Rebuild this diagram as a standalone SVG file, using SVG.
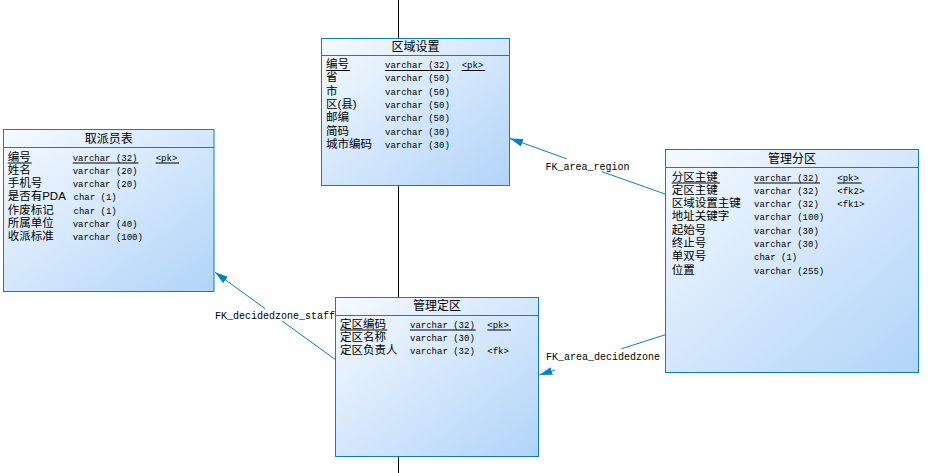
<svg xmlns="http://www.w3.org/2000/svg" width="934" height="473" viewBox="0 0 934 473">
<style>
.box{fill:url(#g);stroke:#0a7fc2;stroke-width:1}
.hd{stroke:#0a7fc2;stroke-width:1}
.t{font-family:"Liberation Sans","Noto Sans CJK SC",sans-serif;font-size:11.5px;fill:#000}
.ti{font-family:"Liberation Sans","Noto Sans CJK SC",sans-serif;font-size:12px;fill:#000;text-anchor:middle}
.m{font-family:"Liberation Mono",monospace;font-size:9px;fill:#000}
.ul{stroke:#000;stroke-width:1}
.c{stroke:#0a7fc2;stroke-width:1;fill:none}
.lb{font-family:"Liberation Mono",monospace;font-size:10px;fill:#000}
</style>
<defs>
<linearGradient id="g" x1="0" y1="0" x2="1" y2="1">
<stop offset="0" stop-color="#f6faff"/>
<stop offset="1" stop-color="#b1d4f9"/>
</linearGradient>
<marker id="ah" markerUnits="userSpaceOnUse" viewBox="0 0 13 8" refX="13" refY="4" markerWidth="13" markerHeight="8" orient="auto">
<path d="M0,0 L13,4 L0,8 z" fill="#0a7fc2"/>
</marker>
</defs>
<g id="connectors">
<line x1="398.5" y1="0" x2="398.5" y2="473" stroke="#000" stroke-width="1"/>
<path class="c" d="M665,194 L601.7,171.6"/>
<path class="c" d="M566.7,158.8 L510,138.4" marker-end="url(#ah)"/>
<text class="lb" x="545.5" y="170">FK_area_region</text>
<path class="c" d="M335,359.3 L281.7,320.7"/>
<path class="c" d="M265,308.6 L215,272.3" marker-end="url(#ah)"/>
<text class="lb" x="215" y="318.5">FK_decidedzone_staff</text>
<path class="c" d="M666.7,334.3 L621.7,348.7"/>
<path class="c" d="M555,370 L539.3,375" marker-end="url(#ah)"/>
<text class="lb" x="546" y="359.5">FK_area_decidedzone</text>
</g>
<g id="region">
<rect class="box" x="321.5" y="38.5" width="188" height="147"/>
<line class="hd" x1="321.5" y1="55.5" x2="509.5" y2="55.5"/>
<text class="ti" x="415.5" y="50.5">区域设置</text>
<text class="t" x="326" y="68">编号</text><text class="m" x="385" y="68">varchar (32)</text><text class="m" x="461.7" y="68">&lt;pk&gt;</text>
<line class="ul" x1="326" y1="70.5" x2="350" y2="70.5"/><line class="ul" x1="385" y1="70.5" x2="450.7" y2="70.5"/><line class="ul" x1="461.7" y1="70.5" x2="485" y2="70.5"/>
<text class="t" x="326" y="81.4">省</text><text class="m" x="385" y="81.4">varchar (50)</text>
<text class="t" x="326" y="94.7">市</text><text class="m" x="385" y="94.7">varchar (50)</text>
<text class="t" x="326" y="108">区(县)</text><text class="m" x="385" y="108">varchar (50)</text>
<text class="t" x="326" y="121.4">邮编</text><text class="m" x="385" y="121.4">varchar (50)</text>
<text class="t" x="326" y="134.7">简码</text><text class="m" x="385" y="134.7">varchar (30)</text>
<text class="t" x="326" y="148">城市编码</text><text class="m" x="385" y="148">varchar (30)</text>
</g>
<g id="staff">
<rect class="box" x="3.5" y="129.5" width="210.5" height="162"/>
<line class="hd" x1="3.5" y1="147.5" x2="214" y2="147.5"/>
<text class="ti" x="108.7" y="142.5">取派员表</text>
<text class="t" x="7.7" y="160.5">编号</text><text class="m" x="72.7" y="160.5">varchar (32)</text><text class="m" x="155.7" y="160.5">&lt;pk&gt;</text>
<line class="ul" x1="7.7" y1="163" x2="31.7" y2="163"/><line class="ul" x1="72.7" y1="163" x2="138.3" y2="163"/><line class="ul" x1="155.7" y1="163" x2="179" y2="163"/>
<text class="t" x="7.7" y="173.8">姓名</text><text class="m" x="72.7" y="173.8">varchar (20)</text>
<text class="t" x="7.7" y="187.1">手机号</text><text class="m" x="72.7" y="187.1">varchar (20)</text>
<text class="t" x="7.7" y="200.4">是否有PDA</text><text class="m" x="73.5" y="200.4">char (1)</text>
<text class="t" x="7.7" y="213.7">作废标记</text><text class="m" x="73.5" y="213.7">char (1)</text>
<text class="t" x="7.7" y="227">所属单位</text><text class="m" x="72.7" y="227">varchar (40)</text>
<text class="t" x="7.7" y="240.3">收派标准</text><text class="m" x="72.7" y="240.3">varchar (100)</text>
</g>
<g id="zone">
<rect class="box" x="665.5" y="149.5" width="253" height="223"/>
<line class="hd" x1="665.5" y1="167.5" x2="918.5" y2="167.5"/>
<text class="ti" x="792" y="163">管理分区</text>
<text class="t" x="671.7" y="180.5">分区主键</text><text class="m" x="754" y="180.5">varchar (32)</text><text class="m" x="837.3" y="180.5">&lt;pk&gt;</text>
<line class="ul" x1="671.7" y1="183" x2="720" y2="183"/><line class="ul" x1="754" y1="183" x2="820" y2="183"/><line class="ul" x1="837.3" y1="183" x2="861.7" y2="183"/>
<text class="t" x="671.7" y="193.8">定区主键</text><text class="m" x="754" y="193.8">varchar (32)</text><text class="m" x="837.3" y="193.8">&lt;fk2&gt;</text>
<text class="t" x="671.7" y="207.1">区域设置主键</text><text class="m" x="754" y="207.1">varchar (32)</text><text class="m" x="837.3" y="207.1">&lt;fk1&gt;</text>
<text class="t" x="671.7" y="220.4">地址关键字</text><text class="m" x="754" y="220.4">varchar (100)</text>
<text class="t" x="671.7" y="233.7">起始号</text><text class="m" x="754" y="233.7">varchar (30)</text>
<text class="t" x="671.7" y="247">终止号</text><text class="m" x="754" y="247">varchar (30)</text>
<text class="t" x="671.7" y="260.3">单双号</text><text class="m" x="754" y="260.3">char (1)</text>
<text class="t" x="671.7" y="273.6">位置</text><text class="m" x="754" y="273.6">varchar (255)</text>
</g>
<g id="decidedzone">
<rect class="box" x="335.5" y="297.5" width="203" height="159"/>
<line class="hd" x1="335.5" y1="315.5" x2="538.5" y2="315.5"/>
<text class="ti" x="437" y="309.5">管理定区</text>
<text class="t" x="340" y="327.5">定区编码</text><text class="m" x="410" y="327.5">varchar (32)</text><text class="m" x="487.3" y="327.5">&lt;pk&gt;</text>
<line class="ul" x1="340" y1="330" x2="387.3" y2="330"/><line class="ul" x1="410" y1="330" x2="475.7" y2="330"/><line class="ul" x1="487.3" y1="330" x2="511" y2="330"/>
<text class="t" x="340" y="340.8">定区名称</text><text class="m" x="410" y="340.8">varchar (30)</text>
<text class="t" x="340" y="354.1">定区负责人</text><text class="m" x="410" y="354.1">varchar (32)</text><text class="m" x="487.3" y="354.1">&lt;fk&gt;</text>
</g>
</svg>
